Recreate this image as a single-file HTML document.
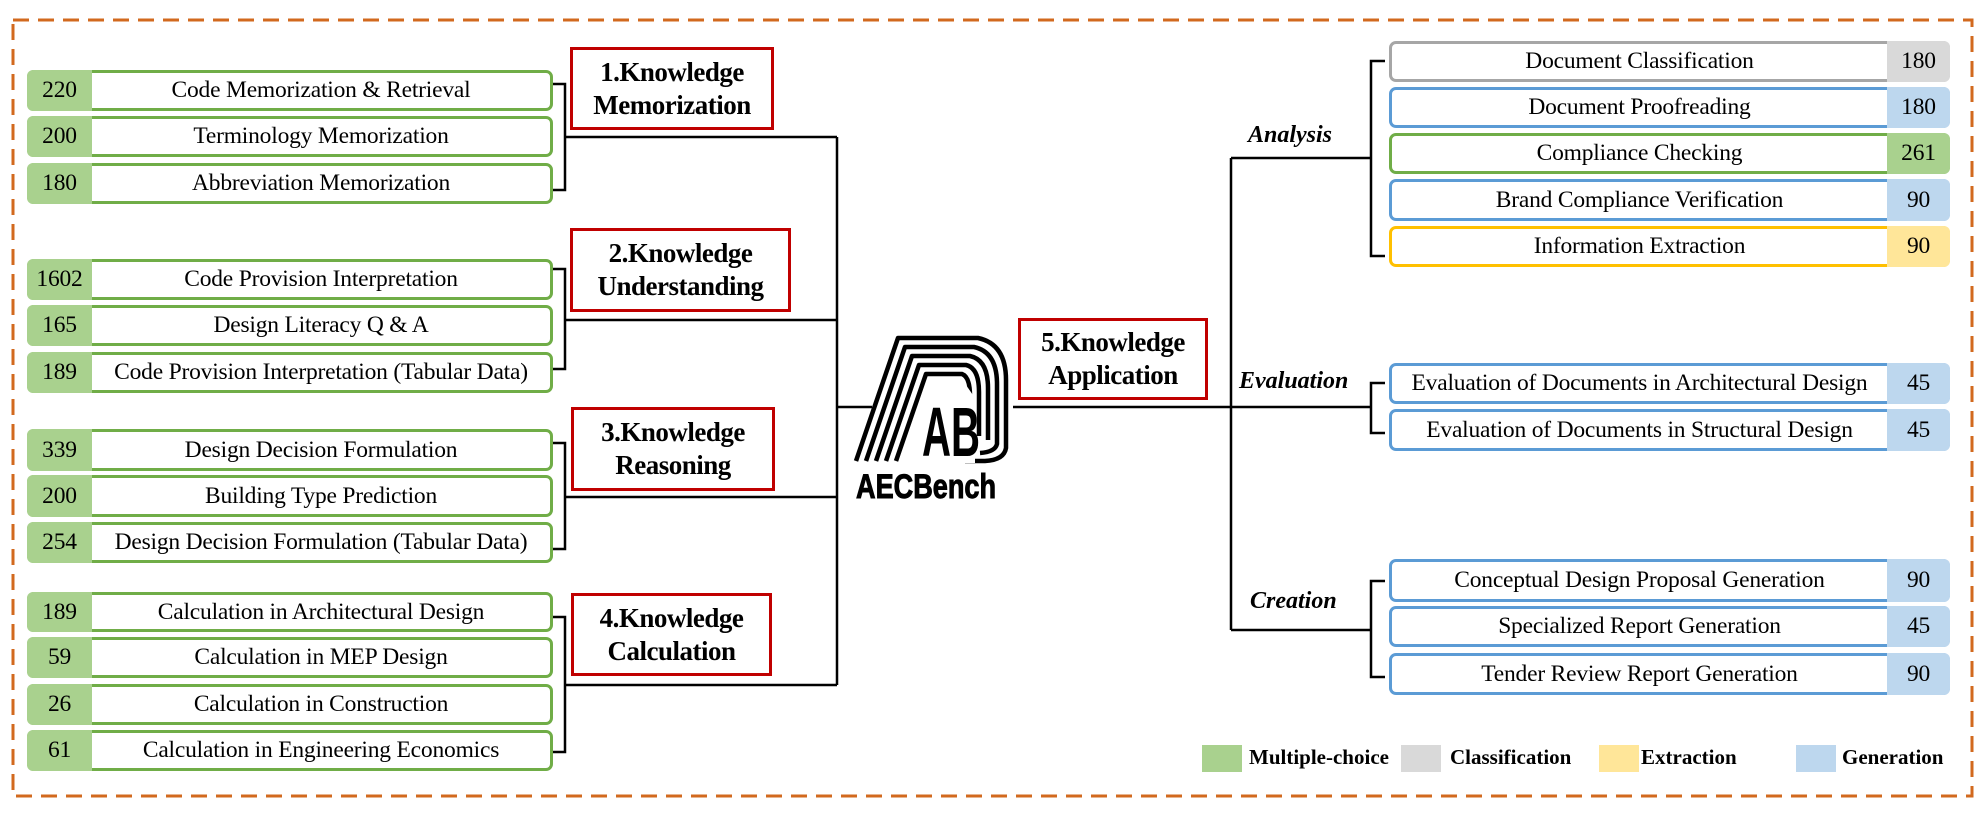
<!DOCTYPE html>
<html><head><meta charset="utf-8"><style>
*{margin:0;padding:0;box-sizing:border-box}
body{width:1986px;height:823px;background:#fff;position:relative;overflow:hidden;font-family:"Liberation Serif",serif;color:#000}
.b{position:absolute;border:3px solid #70ad47;border-radius:7px;background:#fff;font-size:23.5px;display:flex;align-items:center;justify-content:center;white-space:nowrap;letter-spacing:-0.2px}
.n{position:absolute;top:-3px;bottom:-3px;width:65px;display:flex;align-items:center;justify-content:center;font-size:23.5px}
.L .n{left:-3px;background:#a9d18e;border-radius:6px 0 0 6px}
.L{padding-left:62px}
.R{padding-right:60px}
.R .n{right:-3px;width:63px;border-radius:0 6px 6px 0}
.g{border-color:#70ad47}.g .n{background:#a9d18e}
.bl{border-color:#5b9bd5}.bl .n{background:#bdd7ee}
.gr{border-color:#a6a6a6}.gr .n{background:#d9d9d9}
.y{border-color:#ffc000}.y .n{background:#ffe699}
.k{position:absolute;border:3px solid #c00000;background:#fff;font-weight:bold;font-size:27px;line-height:33px;text-align:center;display:flex;align-items:center;justify-content:center;letter-spacing:-0.5px}
.it{position:absolute;font-weight:bold;font-style:italic;font-size:24px}
.lg{position:absolute;width:40px;height:27px;top:745px}
.lt{position:absolute;top:745px;font-weight:bold;font-size:21px}
</style></head><body>
<svg width="1986" height="823" style="position:absolute;left:0;top:0">
<rect x="13" y="20" width="1959" height="776" fill="none" stroke="#d2691e" stroke-width="3" stroke-dasharray="16,9"/>
<g fill="none" stroke="#000" stroke-width="2.5">
<path d="M553 84H565V190H553M565 137H837"/>
<path d="M553 269H565V369H553M565 320H837"/>
<path d="M553 443H565V549H553M565 497H837"/>
<path d="M553 617H565V752H553M565 685H837"/>
<path d="M837 137V685M837 407H872"/>
<path d="M1013 407H1371M1231 158V630M1231 158H1371M1231 630H1371"/>
<path d="M1385 61H1371V256H1385M1385 383H1371V433H1385M1385 581H1371V677H1385"/>
</g>
<g fill="none" stroke="#000" stroke-width="4.5" stroke-linejoin="round">
<path d="M856 461L898 338H978Q1006 344 1006 380V448Q1004 460 985 461H965"/>
<path d="M866 461L905 347H974Q997 352 997 384V444Q995 452 980 453"/>
<path d="M876 461L912 356H970Q988 360 988 388V440"/>
<path d="M886 461L919 365H966Q979 368 979 392V436"/>
<path d="M896 461L926 374H962Q970 377 970 396"/>
</g>
<polygon points="903,463 928,385 966,385 975,398 975,463" fill="#fff"/>
<text x="922" y="456" font-family="Liberation Sans,sans-serif" font-weight="bold" font-size="70" textLength="58" lengthAdjust="spacingAndGlyphs">AB</text>
<text x="856" y="498" font-family="Liberation Sans,sans-serif" font-weight="bold" font-size="34" textLength="140" lengthAdjust="spacingAndGlyphs" stroke="#000" stroke-width="1">AECBench</text>
</svg>

<div class="b L g" style="left:27px;top:70px;width:526px;height:41px"><span class="n">220</span>Code Memorization &amp; Retrieval</div>
<div class="b L g" style="left:27px;top:116px;width:526px;height:41px"><span class="n">200</span>Terminology Memorization</div>
<div class="b L g" style="left:27px;top:163px;width:526px;height:41px"><span class="n">180</span>Abbreviation Memorization</div>

<div class="b L g" style="left:27px;top:259px;width:526px;height:41px"><span class="n">1602</span>Code Provision Interpretation</div>
<div class="b L g" style="left:27px;top:305px;width:526px;height:41px"><span class="n">165</span>Design Literacy Q &amp; A</div>
<div class="b L g" style="left:27px;top:352px;width:526px;height:41px"><span class="n">189</span>Code Provision Interpretation (Tabular Data)</div>

<div class="b L g" style="left:27px;top:429px;width:526px;height:42px"><span class="n">339</span>Design Decision Formulation</div>
<div class="b L g" style="left:27px;top:475px;width:526px;height:42px"><span class="n">200</span>Building Type Prediction</div>
<div class="b L g" style="left:27px;top:522px;width:526px;height:41px"><span class="n">254</span>Design Decision Formulation (Tabular Data)</div>

<div class="b L g" style="left:27px;top:592px;width:526px;height:40px"><span class="n">189</span>Calculation in Architectural Design</div>
<div class="b L g" style="left:27px;top:637px;width:526px;height:41px"><span class="n">59</span>Calculation in MEP Design</div>
<div class="b L g" style="left:27px;top:684px;width:526px;height:41px"><span class="n">26</span>Calculation in Construction</div>
<div class="b L g" style="left:27px;top:730px;width:526px;height:41px"><span class="n">61</span>Calculation in Engineering Economics</div>

<div class="k" style="left:570px;top:47px;width:204px;height:83px">1.Knowledge<br>Memorization</div>
<div class="k" style="left:570px;top:228px;width:221px;height:84px">2.Knowledge<br>Understanding</div>
<div class="k" style="left:571px;top:407px;width:204px;height:84px">3.Knowledge<br>Reasoning</div>
<div class="k" style="left:571px;top:593px;width:201px;height:83px">4.Knowledge<br>Calculation</div>
<div class="k" style="left:1018px;top:318px;width:190px;height:82px">5.Knowledge<br>Application</div>

<div class="it" style="left:1248px;top:122px">Analysis</div>
<div class="it" style="left:1239px;top:368px">Evaluation</div>
<div class="it" style="left:1250px;top:588px">Creation</div>

<div class="b R gr" style="left:1389px;top:41px;width:561px;height:41px">Document Classification<span class="n">180</span></div>
<div class="b R bl" style="left:1389px;top:87px;width:561px;height:41px">Document Proofreading<span class="n">180</span></div>
<div class="b R g" style="left:1389px;top:133px;width:561px;height:41px">Compliance Checking<span class="n">261</span></div>
<div class="b R bl" style="left:1389px;top:179px;width:561px;height:42px">Brand Compliance Verification<span class="n">90</span></div>
<div class="b R y" style="left:1389px;top:226px;width:561px;height:41px">Information Extraction<span class="n">90</span></div>

<div class="b R bl" style="left:1389px;top:363px;width:561px;height:41px">Evaluation of Documents in Architectural Design<span class="n">45</span></div>
<div class="b R bl" style="left:1389px;top:409px;width:561px;height:42px">Evaluation of Documents in Structural Design<span class="n">45</span></div>

<div class="b R bl" style="left:1389px;top:559px;width:561px;height:43px">Conceptual Design Proposal Generation<span class="n">90</span></div>
<div class="b R bl" style="left:1389px;top:606px;width:561px;height:41px">Specialized Report Generation<span class="n">45</span></div>
<div class="b R bl" style="left:1389px;top:653px;width:561px;height:42px">Tender Review Report Generation<span class="n">90</span></div>

<div class="lg" style="left:1202px;background:#a9d18e"></div><div class="lt" style="left:1249px">Multiple-choice</div>
<div class="lg" style="left:1401px;background:#d9d9d9"></div><div class="lt" style="left:1450px">Classification</div>
<div class="lg" style="left:1599px;background:#ffe699"></div><div class="lt" style="left:1641px">Extraction</div>
<div class="lg" style="left:1796px;background:#bdd7ee"></div><div class="lt" style="left:1842px">Generation</div>
</body></html>
